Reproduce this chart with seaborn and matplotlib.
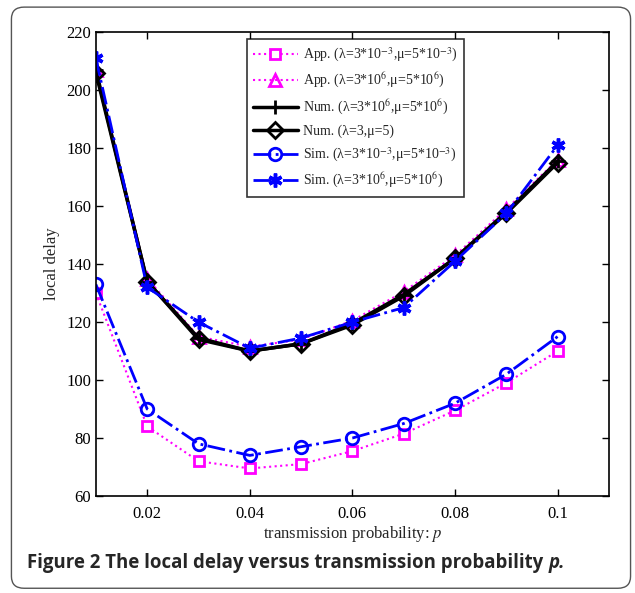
import seaborn as sns
import matplotlib.pyplot as plt
import matplotlib.patches as mpatches
import pandas as pd

# ----------------------- Data -----------------------
p = [0.01, 0.02, 0.03, 0.04, 0.05, 0.06, 0.07, 0.08, 0.09, 0.10]

app_small = [130, 84, 72, 69.5, 71, 75.5, 81.5, 89.5, 99, 110]
app_large = [207, 135, 115, 111.5, 114, 120.5, 130.5, 143, 159, 176]
num_large = [207, 134, 114.5, 110, 112.5, 119.5, 129.5, 142, 158, 175.5]
num_unit = [206, 134, 114, 110, 112.5, 119, 129, 142, 157.5, 175]
sim_small = [133, 90, 78, 74, 77, 80, 85, 92, 102, 115]
sim_large = [211, 132, 120, 111, 114.5, 120, 125, 141, 157.5, 181]

labels = [
    'App. (λ=3*10$^{-3}$,μ=5*10$^{-3}$)',
    'App. (λ=3*10$^{6}$,μ=5*10$^{6}$)',
    'Num. (λ=3*10$^{6}$,μ=5*10$^{6}$)',
    'Num. (λ=3,μ=5)',
    'Sim. (λ=3*10$^{-3}$,μ=5*10$^{-3}$)',
    'Sim. (λ=3*10$^{6}$,μ=5*10$^{6}$)',
]
series = [app_small, app_large, num_large, num_unit, sim_small, sim_large]

# ----------------------- Styles -----------------------
styles = [
    dict(color='#ff00ff', ls=':', lw=1.5, marker='s', ms=7, mfc='white', mew=2),
    dict(color='#ff00ff', ls=':', lw=1.5, marker='^', ms=9, mfc='none', mew=2),
    dict(color='black', ls='-', lw=2.5, marker='+', ms=10, mew=2),
    dict(color='black', ls='-', lw=2.5, marker='D', ms=8, mfc='none', mew=2),
    dict(color='#0000ff', ls='-.', lw=2, marker='o', ms=9, mfc='none', mew=2),
    dict(color='#0000ff', ls='-.', lw=2, marker=(6, 2, 0), ms=10, mew=2.5),
]

sns.set_style('ticks')
plt.rcParams['font.family'] = ['Liberation Serif', 'DejaVu Serif']
plt.rcParams['mathtext.fontset'] = 'stix'

fig = plt.figure(figsize=(6.35, 5.93), dpi=100)
ax = fig.add_axes([0.151, 0.1636, 0.808, 0.782])

for ys, lab, st in zip(series, labels, styles):
    df = pd.DataFrame({'p': p, 'delay': ys})
    sns.lineplot(data=df, x='p', y='delay', ax=ax, label=lab,
                 color=st['color'], linestyle=st['ls'], linewidth=st['lw'],
                 marker=st['marker'], markersize=st['ms'],
                 markerfacecolor=st.get('mfc', st['color']),
                 markeredgecolor=st['color'], markeredgewidth=st['mew'])

ax.set_xlim(0.01, 0.11)
ax.set_ylim(60, 220)
ax.set_xticks([0.02, 0.04, 0.06, 0.08, 0.1])
ax.set_xticklabels(['0.02', '0.04', '0.06', '0.08', '0.1'])
ax.set_yticks(range(60, 221, 20))
ax.tick_params(direction='in', top=True, right=True, labelsize=12,
               length=5, width=1, colors='black')
ax.tick_params(axis='x', pad=7)
for s in ax.spines.values():
    s.set_linewidth(1.2)
    s.set_color('black')

ax.set_xlabel('transmission probability: $p$', fontsize=12, labelpad=2)
ax.set_ylabel('local delay', fontsize=12, labelpad=4)

leg = ax.legend(loc='upper center', bbox_to_anchor=(0.506, 1.0), fontsize=10,
                frameon=True, fancybox=False, edgecolor='black',
                handlelength=3.2, labelspacing=0.55, borderpad=0.45,
                handletextpad=0.4)
leg.get_frame().set_linewidth(1.2)

# ----------------------- Caption and border -----------------------
cap = fig.text(0.043, 0.042,
               'Figure 2 The local delay versus transmission probability ',
               fontsize=13.4, fontweight='bold', family='Open Sans', va='baseline')
plt.annotate('p.', xy=(1, 0), xycoords=cap, va='bottom', ha='left',
             fontsize=13.4, fontweight='bold', style='italic', family='Open Sans')

border = mpatches.FancyBboxPatch((0.018, 0.008), 0.975, 0.98,
                                 boxstyle='round,pad=0,rounding_size=0.02',
                                 transform=fig.transFigure, fill=False,
                                 edgecolor='#555555', linewidth=1)
fig.patches.append(border)

fig.savefig('out.png', dpi=100)
